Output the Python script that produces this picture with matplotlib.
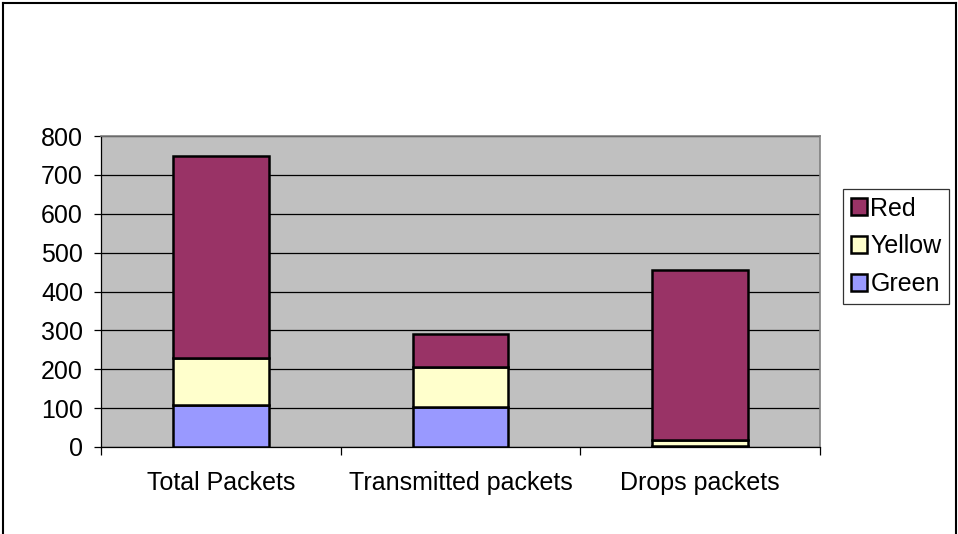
import matplotlib.pyplot as plt
import numpy as np
from matplotlib.lines import Line2D

plt.rcParams['font.family'] = ['Liberation Sans', 'DejaVu Sans']

categories = ['Total Packets', 'Transmitted packets', 'Drops packets']
green = [107, 103, 3]
yellow = [121, 103, 14]
red = [521, 85, 439]

fig = plt.figure(figsize=(9.58, 5.34), dpi=100)
ax = fig.add_axes([101/958, 1-447/534, 719/958, 311/534])
ax.set_facecolor('#C0C0C0')

x = np.arange(len(categories))
w = 0.4
g = np.array(green)
yl = np.array(yellow)
r = np.array(red)
ax.bar(x, g, w, color='#9999FF', edgecolor='black', linewidth=1.8, label='Green', zorder=3)
ax.bar(x, yl, w, bottom=g, color='#FFFFCC', edgecolor='black', linewidth=1.8, label='Yellow', zorder=3)
ax.bar(x, r, w, bottom=g + yl, color='#993366', edgecolor='black', linewidth=1.8, label='Red', zorder=3)

ax.set_xlim(-0.5, 2.5)
ax.set_ylim(0, 800)
ax.set_yticks(range(0, 801, 100))
ax.yaxis.grid(True, color='black', linewidth=0.9, zorder=0)
ax.set_axisbelow(True)

ax.set_xticks([-0.5, 0.5, 1.5, 2.5])
ax.set_xticklabels([])
ax.set_xticks(x, minor=True)
ax.set_xticklabels(categories, minor=True)
ax.tick_params(axis='x', which='major', length=6, width=0.9, color='black')
ax.tick_params(axis='x', which='minor', length=0, pad=17, labelsize=18)
ax.tick_params(axis='y', length=5, width=0.9, labelsize=18, pad=8)

for s in ['top', 'right']:
    ax.spines[s].set_color('#808080')
    ax.spines[s].set_linewidth(1.2)
for s in ['left', 'bottom']:
    ax.spines[s].set_color('black')
    ax.spines[s].set_linewidth(0.9)

handles, labels = ax.get_legend_handles_labels()
leg = fig.legend(handles[::-1], labels[::-1], loc='upper left',
                 bbox_to_anchor=(843/958, 1-189/534), fontsize=18,
                 frameon=True, fancybox=False, edgecolor='black',
                 handlelength=0.65, handleheight=0.65, handletextpad=0.15,
                 borderpad=0.3, labelspacing=0.55, borderaxespad=0)
leg.get_frame().set_linewidth(0.9)

# outer chart border
fig.add_artist(Line2D([3/958, 3/958], [0, 1-3/534], color='black', linewidth=1.5))
fig.add_artist(Line2D([3/958, 956/958], [1-3/534, 1-3/534], color='black', linewidth=1.5))
fig.add_artist(Line2D([956/958, 956/958], [0, 1-3/534], color='black', linewidth=1.5))

fig.savefig('out.png', dpi=100)
